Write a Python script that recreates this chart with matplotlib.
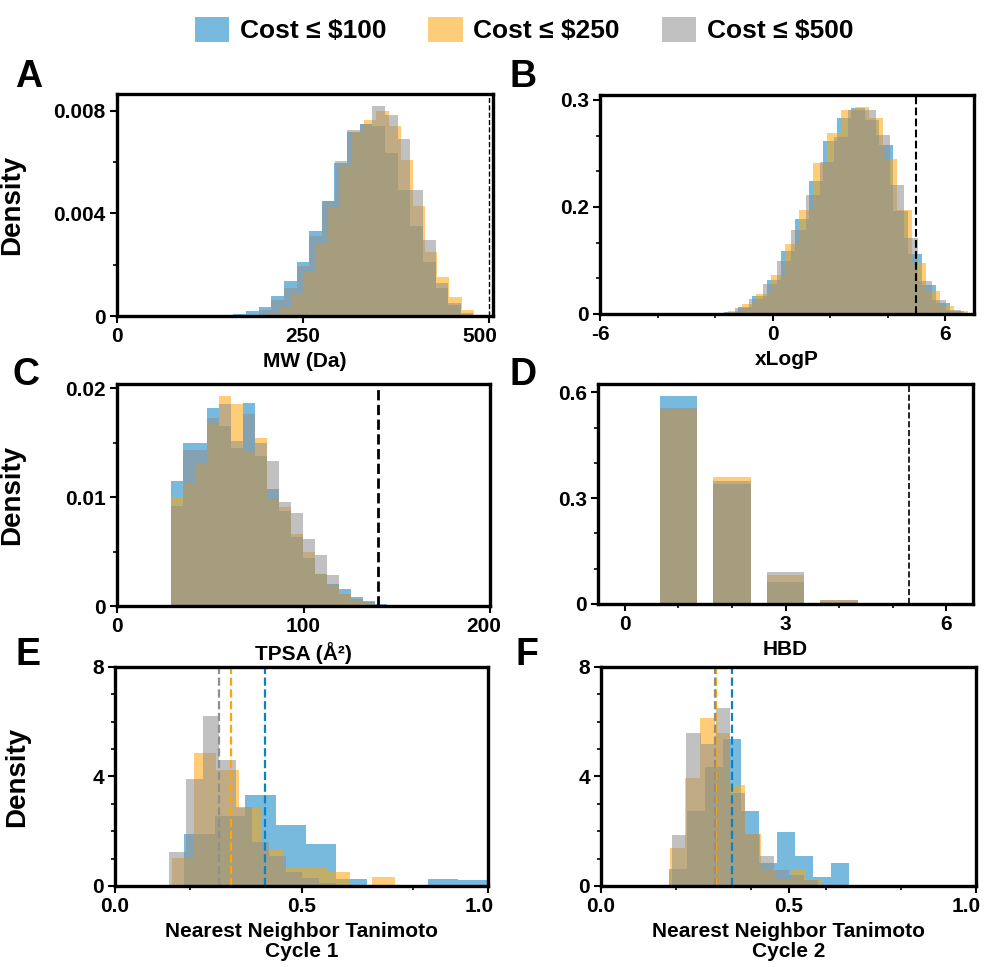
import numpy as np
import matplotlib.pyplot as plt
import matplotlib.transforms as mtransforms
from matplotlib.patches import Patch

plt.rcParams['font.family'] = ['Liberation Sans', 'DejaVu Sans']
plt.rcParams['font.weight'] = 'bold'
plt.rcParams['axes.labelweight'] = 'bold'

groups = ['Cost ≤ $100', 'Cost ≤ $250', 'Cost ≤ $500']
colors = ['#0A82C3', '#FFA50A', '#8F8F8F']
alpha = 0.55

# each histogram: left edge of first bin, bin width, density per bin (blue, orange, gray)
mw_start = [156.7, 201.6, 190.7]
mw_width = [17.0, 16.38, 17.01]
mw_dens = [
    [0.000078, 0.000195, 0.00034, 0.00077, 0.00137, 0.00209, 0.00333, 0.0045, 0.00598, 0.00715,
     0.00748, 0.00739, 0.00635, 0.00492, 0.00351, 0.00212, 0.00108, 0.00043, 0.0001],
    [0.0001, 0.0003, 0.0009, 0.00173, 0.00286, 0.0042, 0.0059, 0.00715, 0.00765, 0.0080,
     0.00739, 0.00609, 0.00429, 0.00251, 0.00153, 0.00075, 0.00023],
    [0.00023, 0.00062, 0.0011, 0.00196, 0.0031, 0.00449, 0.00602, 0.00726, 0.00748, 0.00817,
     0.00782, 0.00691, 0.00492, 0.00297, 0.00127, 0.00049],
]

logp_start = [-1.68, -1.54, -1.795]
logp_width = [0.49, 0.49, 0.49]
logp_dens = [
    [0.0028, 0.0098, 0.0247, 0.0471, 0.0877, 0.1334, 0.1866, 0.2426, 0.2753, 0.2893,
     0.272, 0.237, 0.1437, 0.084, 0.041, 0.0154, 0.0047],
    [0.0037, 0.014, 0.0285, 0.0551, 0.0985, 0.146, 0.2114, 0.2534, 0.286, 0.2907,
     0.2753, 0.2174, 0.146, 0.0714, 0.0317, 0.0117, 0.0037],
    [0.0014, 0.0084, 0.0215, 0.042, 0.0737, 0.118, 0.167, 0.2137, 0.2487, 0.286,
     0.286, 0.251, 0.181, 0.1064, 0.0467, 0.0201, 0.0061],
]

tpsa_start = [29.05, 29.05, 29.05]
tpsa_width = [6.42, 6.42, 6.42]
tpsa_dens = [
    [0.01151, 0.01495, 0.01502, 0.01822, 0.01652, 0.01452, 0.01868, 0.01375, 0.01077, 0.00874,
     0.00637, 0.00437, 0.00298, 0.00206, 0.00154, 0.00083, 0.00043, 0.0002],
    [0.01006, 0.01123, 0.01314, 0.01674, 0.01929, 0.01859, 0.01422, 0.01545, 0.00975, 0.00914,
     0.00662, 0.00498, 0.00298, 0.00197, 0.00114, 0.00068, 0.00031],
    [0.00923, 0.01434, 0.01434, 0.01729, 0.01852, 0.01514, 0.01766, 0.01498, 0.01329, 0.00954,
     0.00852, 0.00615, 0.00468, 0.00289, 0.00114, 0.00068, 0.00037],
]

hbd_values = [1, 2, 3, 4]
hbd_dens = [
    [0.59, 0.34, 0.062, 0.007],
    [0.55, 0.36, 0.083, 0.011],
    [0.557, 0.35, 0.091, 0.012],
]

nn1_start = [0.186, 0.152, 0.1455]
nn1_width = [0.0815, 0.0598, 0.0446]
nn1_dens = [
    [1.91, 2.56, 3.31, 2.24, 1.53, 0.25, 0, 0, 0.27, 0.21],
    [1.02, 4.84, 4.25, 2.86, 1.36, 0.69, 0.69, 0.51, 0, 0.33],
    [1.24, 3.9, 6.2, 4.6, 2.9, 1.6, 1.1, 0.5, 0.3, 0.1],
]
nn1_mean = [0.401, 0.312, 0.278]

nn2_start = [0.182, 0.183, 0.189]
nn2_width = [0.048, 0.0404, 0.039]
nn2_dens = [
    [0.63, 2.73, 4.35, 5.35, 2.73, 0.85, 1.97, 1.1, 0.33, 0.85],
    [1.40, 3.96, 6.15, 5.6, 3.70, 1.91, 0.63, 0.27, 0.63, 0.27],
    [1.85, 5.57, 5.2, 6.5, 3.4, 1.9, 1.1, 0.6, 0.4, 0.2],
]
nn2_mean = [0.349, 0.307, 0.303]


def draw_hist(ax, starts, widths, dens):
    for s, w, d, c in zip(starts, widths, dens, colors):
        d = np.array(d)
        left = s + w * np.arange(len(d))
        ax.bar(left, d, width=w, align='edge', color=c, alpha=alpha, linewidth=0)


def style(ax, xlim, ylim, xticks, xlabels, yticks, ylabels, xminor, yminor, xlabel,
          density=None, last_shift=0):
    ax.set_xlim(*xlim)
    ax.set_ylim(*ylim)
    ax.set_xticks(xticks)
    ax.set_xticklabels(xlabels)
    ax.set_yticks(yticks)
    ax.set_yticklabels(ylabels)
    ax.set_xticks(xminor, minor=True)
    ax.set_yticks(yminor, minor=True)
    ax.tick_params(which='major', length=5, width=1.5, labelsize=15, pad=3)
    ax.tick_params(which='minor', length=3, width=1.2)
    for sp in ax.spines.values():
        sp.set_linewidth(2.4)
    ax.set_xlabel(xlabel, fontsize=15, labelpad=4, linespacing=1.1)
    if density is not None:
        ax.set_ylabel('Density', fontsize=20)
        ax.yaxis.set_label_coords(density, 0.5)
    if last_shift:
        lab = ax.get_xticklabels()[-1]
        lab.set_transform(lab.get_transform() +
                          mtransforms.ScaledTranslation(last_shift / 100, 0, fig.dpi_scale_trans))


fig = plt.figure(figsize=(9.87, 9.67), dpi=100)

axA = fig.add_axes([0.1185, 0.6732, 0.381, 0.2296])
draw_hist(axA, mw_start, mw_width, mw_dens)
axA.axvline(500, color='black', ls='--', lw=1.0)
style(axA, (0, 506), (0, 0.00865), [0, 250, 500], ['0', '250', '500'],
      [0, 0.004, 0.008], ['0', '0.004', '0.008'], [], [0.002, 0.006], 'MW (Da)',
      density=-0.245, last_shift=-9)

axB = fig.add_axes([0.6079, 0.6753, 0.3789, 0.2265])
draw_hist(axB, logp_start, logp_width, logp_dens)
axB.axvline(5, color='black', ls='--', lw=1.5)
style(axB, (-6, 7), (0, 0.307), [-6, 0, 6], ['-6', '0', '6'],
      [0, 0.15, 0.3], ['0', '0.2', '0.3'], [-4, -2, 2, 4], [0.05, 0.1, 0.2, 0.25], 'xLogP')

axC = fig.add_axes([0.1185, 0.3733, 0.378, 0.2296])
draw_hist(axC, tpsa_start, tpsa_width, tpsa_dens)
axC.axvline(140, color='black', ls='--', lw=2.0)
style(axC, (0, 200), (0, 0.0204), [0, 100, 200], ['0', '100', '200'],
      [0, 0.01, 0.02], ['0', '0.01', '0.02'], [], [0.005, 0.015], 'TPSA (Å²)',
      density=-0.245, last_shift=-6)

axD = fig.add_axes([0.6059, 0.3754, 0.38, 0.2275])
for d, c in zip(hbd_dens, colors):
    axD.bar(hbd_values, d, width=0.7, color=c, alpha=alpha, linewidth=0)
axD.axvline(5.3, color='black', ls='--', lw=1.2)
style(axD, (-0.5, 6.5), (0, 0.624), [0, 3, 6], ['0', '3', '6'],
      [0, 0.3, 0.6], ['0', '0.3', '0.6'], [1, 2, 4, 5], [0.1, 0.2, 0.4, 0.5], 'HBD')

axE = fig.add_axes([0.1165, 0.0838, 0.378, 0.2265])
draw_hist(axE, nn1_start, nn1_width, nn1_dens)
for m, c in zip(nn1_mean, colors):
    axE.axvline(m, color=c, ls='--', lw=1.6)
style(axE, (0, 1), (0, 8), [0, 0.5, 1.0], ['0.0', '0.5', '1.0'],
      [0, 4, 8], ['0', '4', '8'], [0.2, 0.8], [1, 2, 3, 5, 6, 7],
      'Nearest Neighbor Tanimoto\nCycle 1', density=-0.228, last_shift=-9)

axF = fig.add_axes([0.6089, 0.0838, 0.38, 0.2265])
draw_hist(axF, nn2_start, nn2_width, nn2_dens)
for m, c in zip(nn2_mean, colors):
    axF.axvline(m, color=c, ls='--', lw=1.6)
style(axF, (0, 1), (0, 8), [0, 0.5, 1.0], ['0.0', '0.5', '1.0'],
      [0, 4, 8], ['0', '4', '8'], [0.2, 0.4, 0.6, 0.8], [1, 2, 3, 5, 6, 7],
      'Nearest Neighbor Tanimoto\nCycle 2', last_shift=-10)

for letter, x, y in [('A', 15, 77), ('B', 510, 77), ('C', 13, 375),
                     ('D', 510, 375), ('E', 15, 655), ('F', 515, 655)]:
    fig.text(x / 987, 1 - y / 967, letter, fontsize=27, fontweight='bold', va='center', ha='left')

handles = [Patch(facecolor=c, alpha=alpha, linewidth=0) for c in colors]
fig.legend(handles, groups, loc='center', bbox_to_anchor=(0.531, 0.969), ncol=3,
           frameon=False, fontsize=19, handlelength=1.3, handleheight=1.1,
           handletextpad=0.4, columnspacing=1.6)

fig.savefig('out.png', dpi=100)
